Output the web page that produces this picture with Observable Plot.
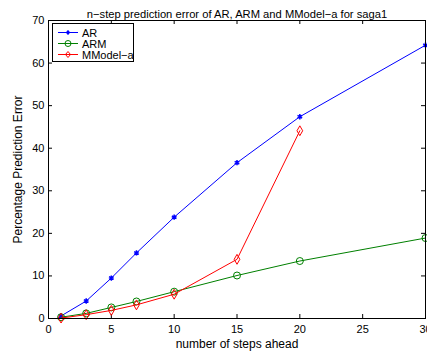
<!DOCTYPE html>
<html><head><meta charset="utf-8">
<script src="https://cdn.jsdelivr.net/npm/d3@7"></script>
<script src="https://cdn.jsdelivr.net/npm/@observablehq/plot@0.6"></script>
<style>
body{margin:0;background:#fff;font-family:"Liberation Sans",Arial,sans-serif;}
#wrap{position:relative;width:427px;height:354px;overflow:hidden;}
#legend{position:absolute;left:52px;top:23px;width:80px;height:37px;border:1px solid #000;background:#fff;font-size:11px;}
#legend .row{position:absolute;left:5px;height:11px;display:flex;align-items:center;}
#legend .row span{margin-left:3px;}
</style></head><body>
<div id="wrap"></div>
<script>
const steps = [1, 3, 5, 7, 10, 15, 20, 30];
const arValues = [0.6, 4.1, 9.5, 15.4, 23.8, 36.6, 47.4, 64.2];
const armValues = [0.3, 1.2, 2.6, 4.0, 6.3, 10.1, 13.5, 18.9];
const mmodelSteps = [1, 3, 5, 7, 10, 15, 20];
const mmodelValues = [0.1, 0.9, 1.9, 3.2, 5.7, 13.9, 44.1];
const xTicks = [0, 5, 10, 15, 20, 25, 30];
const yTicks = [0, 10, 20, 30, 40, 50, 60, 70];
const seriesNames = ["AR", "ARM", "MModel\u2212a"];
const seriesColors = ["#0000ff", "#008000", "#ff0000"];
const title = "n\u2212step prediction error of AR, ARM and MModel\u2212a for saga1";
const xLabel = "number of steps ahead";
const yLabel = "Percentage Prediction Error";

const ar = steps.map((s, i) => ({x: s, y: arValues[i]}));
const arm = steps.map((s, i) => ({x: s, y: armValues[i]}));
const mm = mmodelSteps.map((s, i) => ({x: s, y: mmodelValues[i]}));

const W = 427, H = 354, mT = 20, mB = 36, mL = 48, mR = 2;
const innerH = H - mT - mB, innerW = W - mL - mR;
const tl = 4;

const chart = Plot.plot({
  width: W, height: H,
  marginTop: mT, marginBottom: mB, marginLeft: mL, marginRight: mR,
  style: {fontFamily: "'Liberation Sans', Arial, sans-serif", fontSize: "11px", background: "#fff", overflow: "visible"},
  x: {domain: [0, 30]},
  y: {domain: [0, 70]},
  marks: [
    Plot.axisX({ticks: xTicks, tickSize: 0, tickPadding: 7, label: null, fill: "#000"}),
    Plot.axisY({ticks: yTicks, tickSize: 0, tickPadding: 4, label: null, fill: "#000"}),
    Plot.tickX(xTicks, {x: d => d, insetTop: innerH - tl, stroke: "#000"}),
    Plot.tickX(xTicks, {x: d => d, insetBottom: innerH - tl, stroke: "#000"}),
    Plot.tickY(yTicks, {y: d => d, insetRight: innerW - tl, stroke: "#000"}),
    Plot.tickY(yTicks, {y: d => d, insetLeft: innerW - tl, stroke: "#000"}),
    Plot.line(ar, {x: "x", y: "y", stroke: seriesColors[0], strokeWidth: 1}),
    Plot.dot(ar, {x: "x", y: "y", symbol: "asterisk", r: 2.5, stroke: seriesColors[0], strokeWidth: 1.5}),
    Plot.line(arm, {x: "x", y: "y", stroke: seriesColors[1], strokeWidth: 1}),
    Plot.dot(arm, {x: "x", y: "y", symbol: "circle", r: 3.5, stroke: seriesColors[1], fill: "none", strokeWidth: 1}),
    Plot.line(mm, {x: "x", y: "y", stroke: seriesColors[2], strokeWidth: 1}),
    Plot.dot(mm, {x: "x", y: "y", symbol: "diamond", r: 3, stroke: seriesColors[2], fill: "none", strokeWidth: 1}),
    Plot.frame({stroke: "#000", strokeWidth: 1}),
    Plot.text([title], {text: d => d, frameAnchor: "top", dy: -10, fontSize: 11.2, fill: "#000"}),
    Plot.text([xLabel], {text: d => d, frameAnchor: "bottom", dy: 29, fontSize: 12, fill: "#000"}),
    Plot.text([yLabel], {text: d => d, frameAnchor: "left", textAnchor: "middle", dx: -30, rotate: -90, fontSize: 12, fill: "#000"})
  ]
});
const wrap = document.getElementById("wrap");
wrap.appendChild(chart);

const legend = document.createElement("div");
legend.id = "legend";
const shapes = [
  '<circle cx="10" cy="5.5" r="1.8" fill="COL"/><path d="M7.5 5.5h5M10 3v5" stroke="COL"/>',
  '<circle cx="10" cy="5.5" r="3" fill="none" stroke="COL"/>',
  '<path d="M10 2.5 L12.5 5.5 L10 8.5 L7.5 5.5Z" fill="none" stroke="COL"/>'
];
seriesNames.forEach((n, i) => {
  const row = document.createElement("div");
  row.className = "row";
  row.style.top = (3 + i * 11) + "px";
  row.innerHTML = `<svg width="21" height="11"><line x1="0" x2="20" y1="5.5" y2="5.5" stroke="${seriesColors[i]}"/>${shapes[i].replace(/COL/g, seriesColors[i])}</svg><span>${n}</span>`;
  legend.appendChild(row);
});
wrap.appendChild(legend);
</script>
</body></html>
